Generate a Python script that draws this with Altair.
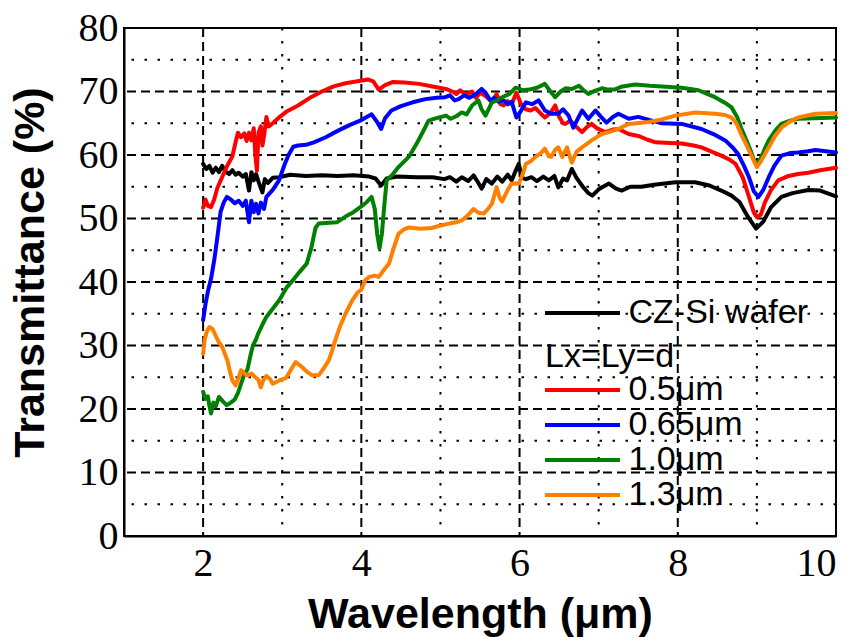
import altair as alt
import pandas as pd

# ---------------- data ----------------
wl_cz = [2.00, 2.04, 2.08, 2.12, 2.16, 2.20, 2.24, 2.28, 2.33, 2.37, 2.41, 2.45, 2.50, 2.54, 2.58, 2.61,
         2.64, 2.67, 2.70, 2.75, 2.78, 2.82, 2.88, 2.96, 3.10, 3.30, 3.50, 3.70, 3.90, 4.10, 4.18, 4.25,
         4.32, 4.45, 4.70, 4.90, 5.05, 5.12, 5.20, 5.27, 5.35, 5.42, 5.48, 5.52, 5.58, 5.65, 5.72, 5.78,
         5.85, 5.90, 5.95, 5.99, 6.03, 6.08, 6.15, 6.22, 6.30, 6.37, 6.44, 6.49, 6.55, 6.60, 6.66, 6.72,
         6.80, 6.87, 6.92, 7.00, 7.13, 7.22, 7.29, 7.40, 7.54, 7.70, 7.97, 8.22, 8.40, 8.55, 8.68, 8.78,
         8.88, 8.99, 9.08, 9.18, 9.31, 9.45, 9.65, 9.80, 10.0]
t_cz = [58.6, 57.8, 58.3, 57.2, 58.0, 57.3, 58.3, 57.4, 57.0, 57.6, 56.9, 57.2, 56.6, 57.0, 54.4, 57.3,
        56.0, 57.0, 55.8, 54.1, 56.2, 55.6, 56.4, 56.5, 56.9, 56.7, 56.8, 56.7, 56.8, 56.6, 56.3, 55.2,
        56.3, 56.6, 56.5, 56.5, 56.2, 56.5, 55.8, 56.5, 55.9, 56.8, 55.6, 54.7, 56.2, 55.5, 56.6, 55.8,
        56.9, 56.0, 57.5, 58.6, 56.4, 56.2, 56.5, 55.9, 56.6, 56.0, 56.7, 54.9, 56.3, 56.0, 57.8, 56.4,
        55.0, 54.0, 53.6, 54.6, 55.5, 54.7, 54.4, 55.0, 55.0, 55.3, 55.7, 55.7, 55.2, 54.4, 53.6, 52.6,
        50.4, 48.4, 49.5, 51.8, 53.4, 54.0, 54.5, 54.4, 53.5]

wl_05 = [2.00, 2.03, 2.06, 2.10, 2.14, 2.18, 2.24, 2.30, 2.37, 2.41, 2.44, 2.48, 2.52, 2.55, 2.58, 2.61,
         2.64, 2.66, 2.68, 2.70, 2.73, 2.75, 2.77, 2.80, 2.83, 2.88, 2.95, 3.05, 3.20, 3.35, 3.50, 3.65,
         3.80, 3.95, 4.08, 4.15, 4.22, 4.30, 4.40, 4.55, 4.73, 4.90, 5.07, 5.15, 5.20, 5.25, 5.32, 5.40,
         5.45, 5.50, 5.57, 5.65, 5.71, 5.76, 5.80, 5.85, 5.90, 5.96, 6.02, 6.08, 6.14, 6.20, 6.27, 6.32,
         6.39, 6.45, 6.50, 6.55, 6.58, 6.64, 6.72, 6.79, 6.85, 6.91, 6.98, 7.08, 7.18, 7.25, 7.38, 7.50,
         7.62, 7.72, 7.90, 8.05, 8.20, 8.30, 8.45, 8.55, 8.65, 8.73, 8.82, 8.90, 8.96, 9.00, 9.05, 9.10,
         9.18, 9.27, 9.40, 9.52, 9.65, 9.80, 10.0]
t_05 = [51.7, 53.0, 52.0, 51.8, 53.0, 54.8, 56.5, 58.2, 59.8, 62.0, 63.5, 62.8, 63.4, 62.2, 63.5, 62.3,
        64.2, 60.0, 57.5, 63.5, 64.5, 61.5, 63.0, 66.0, 64.5, 65.0, 65.8, 66.8, 67.8, 69.0, 70.0, 70.8,
        71.3, 71.6, 71.9, 71.6, 70.3, 71.0, 71.5, 71.4, 71.2, 70.8, 70.4, 70.0, 69.6, 70.2, 69.5, 70.0,
        69.0, 69.8, 69.3, 68.4, 69.6, 68.0, 67.8, 68.5, 68.0, 69.8, 68.0, 67.2, 67.0, 67.4, 66.5, 65.9,
        66.6, 67.8, 66.0, 65.0, 64.9, 65.4, 64.4, 63.6, 64.4, 64.9, 64.2, 63.6, 64.0, 64.1, 63.3, 63.0,
        62.4, 62.0, 61.9, 61.8, 61.5, 61.2, 60.4, 59.9, 59.3, 58.6, 56.5, 53.4, 51.0, 50.2, 50.6, 52.5,
        54.5, 56.0, 56.7, 57.0, 57.2, 57.6, 58.0]

wl_065 = [2.00, 2.03, 2.06, 2.10, 2.14, 2.18, 2.22, 2.26, 2.30, 2.35, 2.40, 2.45, 2.50, 2.54, 2.58, 2.61,
          2.64, 2.67, 2.70, 2.73, 2.77, 2.80, 2.88, 2.96, 3.03, 3.08, 3.14, 3.20, 3.30, 3.40, 3.55, 3.70,
          3.85, 4.00, 4.13, 4.20, 4.25, 4.30, 4.38, 4.50, 4.65, 4.81, 4.95, 5.06, 5.12, 5.18, 5.23, 5.30,
          5.36, 5.44, 5.52, 5.57, 5.63, 5.68, 5.73, 5.80, 5.85, 5.90, 5.96, 6.02, 6.08, 6.16, 6.24, 6.32,
          6.40, 6.49, 6.55, 6.62, 6.68, 6.74, 6.79, 6.87, 6.96, 7.03, 7.10, 7.18, 7.25, 7.38, 7.50, 7.65,
          7.80, 8.05, 8.30, 8.45, 8.60, 8.70, 8.76, 8.84, 8.90, 8.96, 9.02, 9.08, 9.15, 9.22, 9.31, 9.42,
          9.52, 9.65, 9.74, 9.87, 10.0]
t_065 = [34.0, 36.5, 38.5, 40.5, 43.4, 47.0, 51.0, 52.5, 53.4, 53.0, 52.4, 52.8, 52.0, 52.8, 49.4, 52.8,
         51.0, 52.3, 50.8, 52.5, 51.5, 53.4, 54.5, 56.0, 58.5, 60.0, 61.3, 61.5, 61.6, 62.0, 62.8, 63.8,
         64.7, 65.5, 66.4, 65.2, 64.1, 65.8, 67.0, 67.7, 68.3, 68.8, 69.0, 69.1, 69.4, 68.6, 68.8, 69.4,
         69.0, 69.5, 70.4, 69.8, 68.6, 69.0, 68.4, 68.6, 68.0, 68.4, 65.9, 67.0, 68.3, 68.0, 68.6, 67.0,
         66.5, 66.5, 67.2, 66.2, 64.3, 65.8, 67.0, 65.7, 67.0, 66.0, 65.1, 66.0, 66.5, 65.7, 66.0, 65.5,
         65.0, 64.9, 64.1, 63.3, 62.3, 61.1, 60.2, 58.2, 56.5, 54.3, 53.4, 54.5, 56.5, 58.3, 59.9, 60.3,
         60.4, 60.6, 60.8, 60.6, 60.4]

wl_10 = [2.00, 2.03, 2.06, 2.08, 2.10, 2.13, 2.16, 2.20, 2.25, 2.30, 2.35, 2.40, 2.44, 2.48, 2.52, 2.56,
         2.60, 2.63, 2.67, 2.70, 2.75, 2.80, 2.88, 2.96, 3.06, 3.15, 3.22, 3.31, 3.37, 3.42, 3.46, 3.55,
         3.69, 3.80, 3.90, 4.00, 4.07, 4.13, 4.17, 4.20, 4.23, 4.26, 4.29, 4.32, 4.40, 4.47, 4.60, 4.70,
         4.78, 4.85, 4.95, 5.07, 5.13, 5.20, 5.27, 5.33, 5.40, 5.48, 5.52, 5.57, 5.65, 5.72, 5.78, 5.87,
         5.95, 6.04, 6.12, 6.22, 6.32, 6.39, 6.45, 6.52, 6.58, 6.66, 6.75, 6.82, 6.87, 6.95, 7.04, 7.12,
         7.20, 7.30, 7.46, 7.65, 7.80, 8.05, 8.26, 8.47, 8.60, 8.68, 8.75, 8.80, 8.86, 8.92, 8.97, 9.00,
         9.05, 9.10, 9.15, 9.23, 9.31, 9.42, 9.52, 9.74, 10.0]
t_10 = [22.7, 21.6, 22.0, 20.5, 19.3, 21.0, 20.4, 21.9, 21.2, 20.6, 21.0, 21.5, 22.5, 24.0, 25.5, 26.2,
        28.5, 30.0, 31.0, 32.0, 33.3, 34.5, 35.8, 37.1, 39.2, 40.5, 41.6, 42.9, 45.5, 48.5, 49.2, 49.3,
        49.4, 50.3, 51.0, 51.9, 52.6, 53.4, 51.5, 47.6, 45.3, 47.6, 52.0, 56.0, 57.0, 58.1, 59.7, 61.8,
        63.7, 65.4, 65.8, 66.2, 65.7, 66.1, 66.7, 66.4, 67.8, 68.6, 67.2, 66.2, 68.3, 68.6, 69.1, 69.6,
        70.6, 70.2, 70.3, 70.6, 71.2, 70.0, 69.1, 70.0, 70.5, 70.4, 70.9, 70.1, 69.6, 70.1, 70.5, 70.3,
        70.3, 70.8, 71.1, 70.9, 70.8, 70.6, 70.2, 69.1, 68.2, 67.5, 66.0, 64.3, 62.5, 60.7, 59.0, 58.6,
        59.5, 61.0, 62.3, 63.8, 64.9, 65.4, 65.7, 65.8, 65.9]

wl_13 = [2.00, 2.02, 2.05, 2.08, 2.12, 2.16, 2.20, 2.24, 2.28, 2.31, 2.34, 2.37, 2.41, 2.45, 2.48, 2.52,
         2.56, 2.61, 2.66, 2.70, 2.73, 2.76, 2.80, 2.84, 2.88, 2.92, 2.98, 3.05, 3.11, 3.17, 3.21, 3.25,
         3.32, 3.38, 3.46, 3.52, 3.59, 3.63, 3.67, 3.73, 3.80, 3.88, 3.95, 4.00, 4.05, 4.10, 4.17, 4.22,
         4.28, 4.35, 4.40, 4.47, 4.54, 4.60, 4.75, 4.89, 5.00, 5.11, 5.20, 5.27, 5.33, 5.42, 5.48, 5.55,
         5.60, 5.65, 5.71, 5.75, 5.78, 5.85, 5.90, 5.99, 6.04, 6.08, 6.14, 6.20, 6.27, 6.32, 6.37, 6.40,
         6.45, 6.49, 6.54, 6.60, 6.66, 6.72, 6.79, 6.91, 7.04, 7.15, 7.25, 7.38, 7.63, 7.80, 7.97, 8.22,
         8.47, 8.60, 8.68, 8.74, 8.80, 8.86, 8.92, 9.00, 9.06, 9.15, 9.23, 9.31, 9.42, 9.52, 9.74, 10.0]
t_13 = [28.7, 31.0, 32.3, 32.9, 32.6, 31.5, 30.5, 29.8, 28.5, 27.5, 25.8, 24.5, 23.7, 25.0, 26.1, 25.6,
        25.3, 25.6, 25.0, 24.6, 23.4, 24.5, 25.2, 24.8, 24.0, 24.2, 24.6, 24.9, 26.2, 27.4, 27.0, 26.6,
        25.8, 25.3, 25.3, 26.3, 27.7, 29.2, 30.8, 33.0, 35.0, 37.0, 38.3, 38.8, 40.3, 40.8, 41.0, 40.8,
        41.8, 42.9, 45.0, 47.6, 48.3, 48.6, 48.4, 48.5, 48.9, 49.2, 49.4, 49.7, 50.3, 51.5, 50.9, 50.8,
        51.5, 52.3, 54.9, 53.2, 52.7, 54.5, 55.5, 55.5, 57.0, 58.6, 59.0, 59.7, 60.3, 61.0, 59.8, 59.7,
        60.8, 61.2, 59.7, 61.2, 58.8, 60.5, 61.2, 62.3, 63.3, 63.7, 64.1, 64.9, 65.2, 65.6, 66.2, 66.7,
        66.5, 66.3, 65.9, 65.0, 63.3, 61.8, 60.2, 58.1, 59.2, 61.2, 63.0, 64.3, 65.3, 65.9, 66.5, 66.6]

ref_label = "CZ-Si wafer"
series_labels = ["0.5μm", "0.65μm", "1.0μm", "1.3μm"]
series_colors = ["#ff0000", "#0000ff", "#008000", "#ff8000"]

x_ticks = [2, 4, 6, 8, 10]
y_ticks = [0, 10, 20, 30, 40, 50, 60, 70, 80]
x_major_grid = [2, 4, 6, 8]
x_minor_grid = [3, 5, 7, 9]
y_major_grid = [10, 20, 30, 40, 50, 60, 70]
y_minor_grid = [5, 15, 25, 35, 45, 55, 65, 75]

# ---------------- tables ----------------
df_ref = pd.DataFrame({"wl": wl_cz, "T": t_cz, "series": ref_label})
parts = []
for lab, xs, ys in zip(series_labels, [wl_05, wl_065, wl_10, wl_13], [t_05, t_065, t_10, t_13]):
    parts.append(pd.DataFrame({"wl": xs, "T": ys, "series": lab}))
df_s = pd.concat(parts, ignore_index=True)

xscale = alt.Scale(domain=[1, 10], nice=False, zero=False)
yscale = alt.Scale(domain=[0, 80], nice=False, zero=False)
xaxis = alt.Axis(values=x_ticks, title="Wavelength (μm)", grid=False, ticks=False)
yaxis = alt.Axis(values=y_ticks, title="Transmittance (%)", grid=False, ticks=False)

X = alt.X("wl:Q", scale=xscale, axis=xaxis)
Y = alt.Y("T:Q", scale=yscale, axis=yaxis)

gx_major = alt.Chart(pd.DataFrame({"wl": x_major_grid})).mark_rule(
    color="black", strokeWidth=2, strokeDash=[9, 5]).encode(x=X)
gx_minor = alt.Chart(pd.DataFrame({"wl": x_minor_grid})).mark_rule(
    color="black", strokeWidth=2, strokeDash=[2.5, 10.5]).encode(x=X)
gy_major = alt.Chart(pd.DataFrame({"T": y_major_grid})).mark_rule(
    color="black", strokeWidth=2, strokeDash=[9, 5]).encode(y=Y)
gy_minor = alt.Chart(pd.DataFrame({"T": y_minor_grid})).mark_rule(
    color="black", strokeWidth=2, strokeDash=[2.5, 10.5]).encode(y=Y)

# horizontal line symbol (75 px long) defined as a custom path
legend_common = dict(
    orient="none", symbolType="M-5,0H5", symbolSize=225, symbolStrokeWidth=4,
    symbolOffset=20.5, symbolFillColor="transparent",
    labelFont="Liberation Sans", labelFontSize=34, labelColor="black", labelOffset=29,
    labelLimit=400, padding=0, rowPadding=1,
)

ref_line = alt.Chart(df_ref).mark_line(strokeWidth=4, strokeJoin="round", strokeCap="round").encode(
    x=X, y=Y,
    color=alt.Color("series:N", scale=alt.Scale(domain=[ref_label], range=["black"]),
                    legend=alt.Legend(title=None, legendX=421, legendY=268, **legend_common)),
)

sample_lines = alt.Chart(df_s).mark_line(strokeWidth=4, strokeJoin="round", strokeCap="round").encode(
    x=X, y=Y,
    color=alt.Color("series:N", scale=alt.Scale(domain=series_labels, range=series_colors),
                    legend=alt.Legend(title="Lx=Ly=d", titleFont="Liberation Sans", titleFontSize=34,
                                      titleFontWeight="normal", titleColor="black", titlePadding=-1,
                                      legendX=421, legendY=312, **legend_common)),
)

chart = alt.layer(gx_major, gx_minor, gy_major, gy_minor, ref_line, sample_lines).resolve_scale(
    color="independent"
).properties(
    width=712, height=508,
    autosize=alt.AutoSizeParams(type="none"),
    padding={"left": 124, "top": 28, "right": 26, "bottom": 105},
).configure_view(
    stroke="black", strokeWidth=2
).configure_axis(
    domainColor="black", domainWidth=2, labelColor="black", titleColor="black",
    labelFont="Liberation Serif", labelFontSize=40,
    titleFont="Liberation Sans", titleFontSize=43, titleFontWeight="bold",
).configure_axisX(
    labelPadding=7, titleY=91, titleBaseline="alphabetic",
).configure_axisY(
    labelPadding=6, titleX=-81, titleY=244, titleBaseline="alphabetic", titleAlign="center", titleAngle=-90,
)

chart.save("out.html", embed_options={"renderer": "svg", "actions": False})
